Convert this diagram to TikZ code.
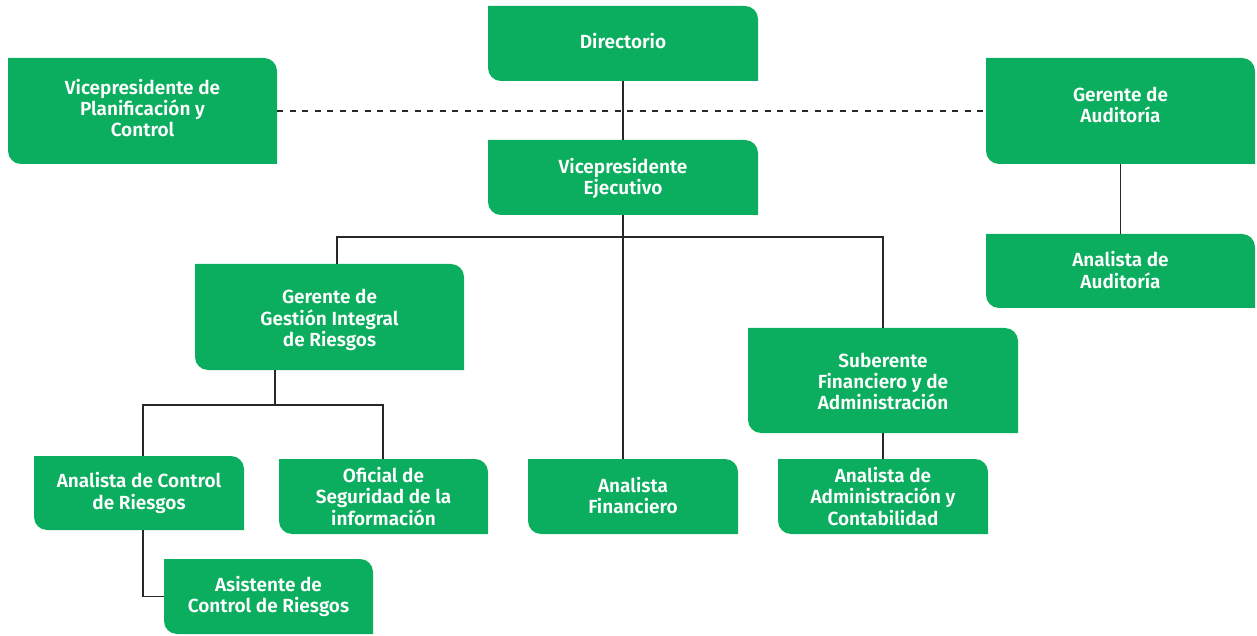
\documentclass[tikz,border=0pt]{standalone}
\usepackage{fontspec}
\setmainfont{Fira Sans}[BoldFont={Fira Sans SemiBold}]
\definecolor{boxgreen}{RGB}{11,174,94}
\definecolor{linegray}{RGB}{40,40,40}
\tikzset{
  boxshape/.style={inner sep=0pt,outer sep=0pt},
  boxtext/.style={align=center,text=white,font=\bfseries\fontsize{19}{21.3}\selectfont,inner sep=0pt},
  conn/.style={draw=linegray,line width=1.8pt},
  dashconn/.style={draw=linegray,line width=1.8pt,dash pattern=on 6pt off 6.5pt}
}
\newcommand\gbox[7][0]{%
  \fill[boxgreen] (#3,#5) -- ({#4-13},#5) arc[start angle=90,end angle=0,radius=13] -- (#4,#6) -- ({#3+13},#6) arc[start angle=270,end angle=180,radius=13] -- cycle;
  \node[boxshape,minimum width={#4-#3},minimum height={#5-#6}] (#2) at ({(#3+#4)/2},{(#5+#6)/2}) {};
  \node[boxtext] (#2-t) at ([yshift={#1}]#2.center) {#7};
}
\begin{document}
\begin{tikzpicture}[x=1pt,y=1pt]
\useasboundingbox (0,0) rectangle (1257,635);
\gbox[2]{dir}{488}{758}{629}{554}{Directorio}
\gbox[3]{vpp}{8}{277}{577}{471}{Vicepresidente de\\Planificación y\\Control}
\gbox[6]{gaud}{986}{1255}{577}{471}{Gerente de\\Auditoría}
\gbox[1]{aaud}{986}{1255}{401}{327}{Analista de\\Auditoría}
\gbox[-1]{vpe}{488}{758}{495}{420}{Vicepresidente\\Ejecutivo}
\gbox[-3]{ggir}{195}{464}{371}{265}{Gerente de\\Gestión Integral\\de Riesgos}
\gbox[-1]{sub}{748}{1018}{307}{202}{Suberente\\Financiero y de\\Administración}
\gbox[0]{acr}{34}{244}{179}{105}{Analista de Control\\de Riesgos}
\gbox[0]{ofi}{279}{488}{176}{101}{Oficial de\\Seguridad de la\\información}
\gbox[1]{afin}{528}{738}{176}{101}{Analista\\Financiero}
\gbox[0]{aadm}{778}{988}{176}{101}{Analista de\\Administración y\\Contabilidad}
\gbox[0]{asis}{164}{373}{76}{1}{Asistente de\\Control de Riesgos}
\coordinate (bl) at (337,398);
\coordinate (br) at (883,398);
\coordinate (gm) at (275,230);
\coordinate (gl) at (143,230);
\coordinate (gr) at (383,230);
\draw[conn] (dir.south -| vpe.south) -- (vpe.north);
\draw[dashconn] (vpp.east) -- (gaud.west);
\draw[conn] (gaud.south) -- (aaud.north);
\draw[conn] (vpe.south) -- (vpe.south |- afin.north);
\draw[conn] (ggir.north -| bl) -- (bl) -- (br) -- (sub.north -| br);
\draw[conn] (ggir.south -| gm) -- (gm);
\draw[conn] (acr.north -| gl) -- (gl) -- (gr) -- (ofi.north -| gr);
\draw[conn] (sub.south) -- (aadm.north -| sub.south);
\draw[conn] (acr.south -| gl) |- (asis.west);
\end{tikzpicture}
\end{document}
